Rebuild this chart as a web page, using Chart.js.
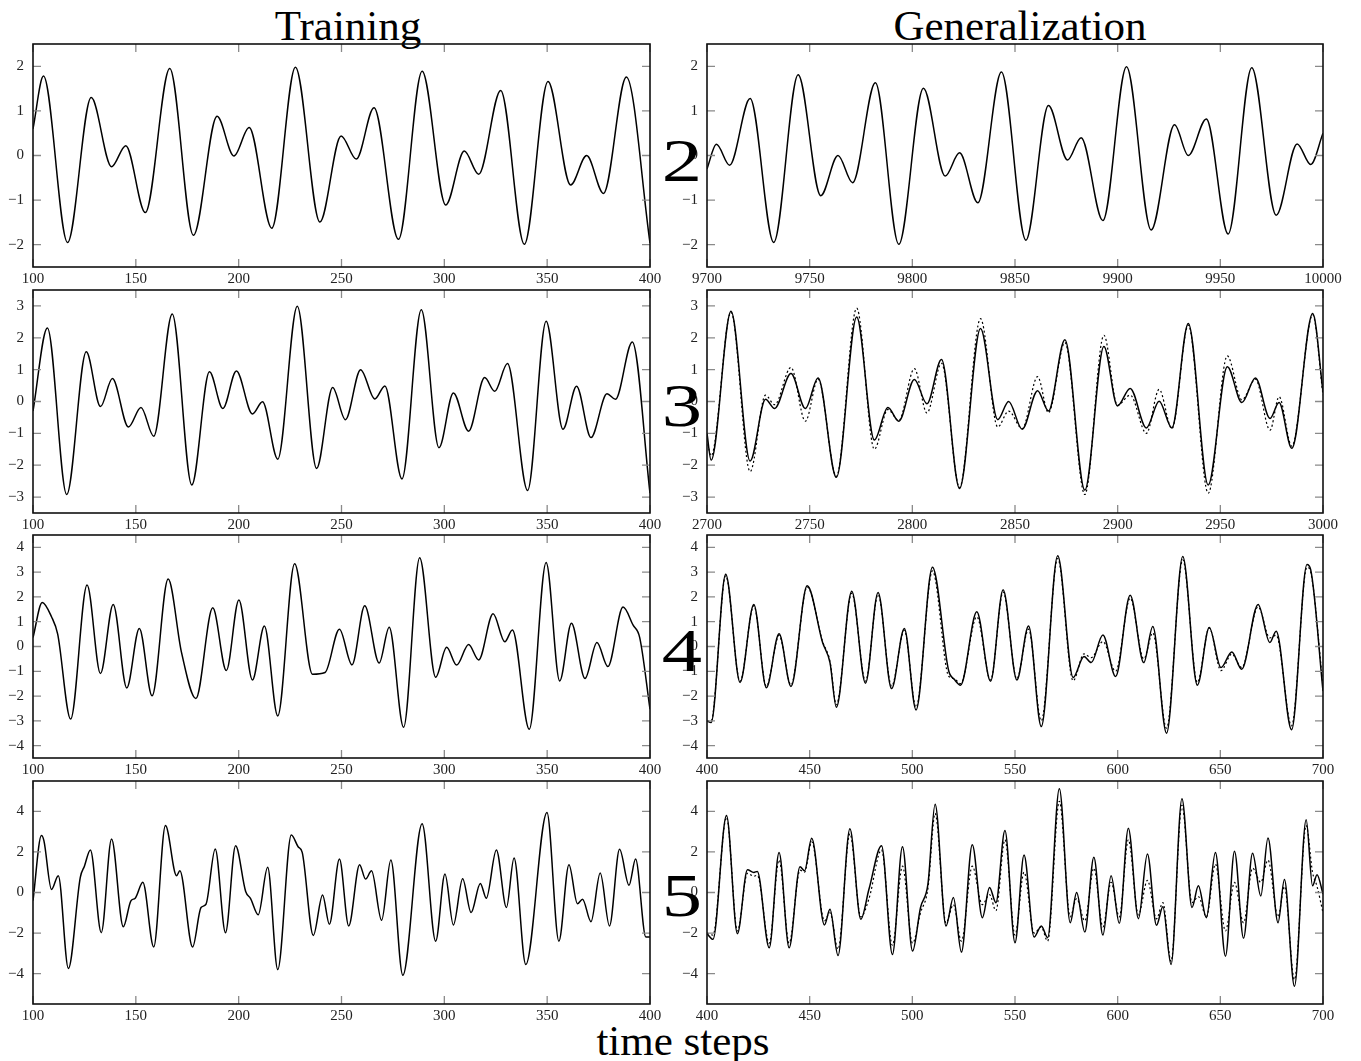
<!DOCTYPE html>
<html>
<head>
<meta charset="utf-8">
<script src="https://cdn.jsdelivr.net/npm/chart.js@4.4.1/dist/chart.umd.min.js"></script>
<style>
  body { margin: 0; background: #fff; width: 1361px; height: 1061px; position: relative; overflow: hidden; }
  canvas { position: absolute; }
  .lbl { position: absolute; font-family: "Liberation Serif", "DejaVu Serif", serif; color: #000; white-space: nowrap; line-height: 1; }
  .title { font-size: 43px; transform: translateX(-50%); }
  .row { font-size: 62px; transform: translateX(-50%) scaleX(1.3); z-index: 5; }
</style>
</head>
<body>
<div class="lbl title" style="left:348px; top:4px;">Training</div>
<div class="lbl title" style="left:1020px; top:4px;">Generalization</div>
<div class="lbl title" style="left:683px; top:1019px;">time steps</div>
<div class="lbl row" style="left:682px; top:129px;">2</div>
<div class="lbl row" style="left:682px; top:374px;">3</div>
<div class="lbl row" style="left:682px; top:619px;">4</div>
<div class="lbl row" style="left:682px; top:864px;">5</div>

<script>
// Tick labels
const trainTicks = [100, 150, 200, 250, 300, 350, 400];
const gen2Ticks = [9700, 9750, 9800, 9850, 9900, 9950, 10000];
const gen3Ticks = [2700, 2750, 2800, 2850, 2900, 2950, 3000];
const gen45Ticks = [400, 450, 500, 550, 600, 650, 700];
const yTicks2 = [-2, -1, 0, 1, 2];
const yTicks3 = [-3, -2, -1, 0, 1, 2, 3];
const yTicks4 = [-4, -3, -2, -1, 0, 1, 2, 3, 4];
const yTicks5 = [-4, -2, 0, 2, 4];

// Row 2: training (target ~ output)
const train2X = [100,105.1,116.8,128.3,138.2,145.1,154.6,166.5,178,189.5,197.7,205.1,216.1,227.6,239.5,249.8,257.2,265.8,277.7,289.2,300.7,309.7,316.7,327.4,338.9,350.4,361.4,369.2,377.4,388.5,400];
const train2Y = [0.6,1.78,-1.95,1.30,-0.25,0.22,-1.28,1.95,-1.79,0.88,-0.01,0.63,-1.63,1.98,-1.49,0.44,-0.08,1.07,-1.88,1.89,-1.11,0.10,-0.42,1.46,-1.99,1.66,-0.66,0.0,-0.85,1.76,-1.96];

// Row 2: generalization
const gen2X = [9700,9704.6,9711,9721,9732.5,9744.4,9755.4,9763.8,9770.9,9782,9793.4,9805.4,9816,9823,9831.9,9843.4,9855.3,9866.3,9875.6,9882.2,9892.8,9904.3,9916.3,9927.7,9934.4,9943.2,9953.8,9965.3,9977.2,9987.4,9994,10000];
const gen2Y = [-0.3,0.25,-0.22,1.28,-1.95,1.81,-0.9,0.0,-0.61,1.63,-1.99,1.51,-0.46,0.06,-1.06,1.87,-1.9,1.12,-0.1,0.4,-1.46,1.99,-1.67,0.69,0.0,0.82,-1.76,1.97,-1.34,0.26,-0.2,0.5];

// Row 3: training
const train3X = [100,107,116.4,125.9,132.8,138.6,146.4,152.5,158.7,167.7,177.2,185.8,192.3,198.9,206.7,211.6,219,228.5,237.9,245.7,251.9,259.3,266.2,271.1,279.4,288.8,297.4,304.4,311.8,319.6,324.5,330.7,340.5,349.5,357.7,364.3,371.3,379.1,383.2,391.4,400];
const train3Y = [-0.3,2.31,-2.92,1.56,-0.16,0.72,-0.8,-0.19,-1.09,2.75,-2.62,0.93,-0.22,0.96,-0.39,-0.01,-1.81,2.99,-2.1,0.44,-0.57,1.0,0.08,0.49,-2.43,2.88,-1.45,0.27,-0.93,0.75,0.32,1.19,-2.79,2.52,-0.87,0.48,-1.13,0.24,0.07,1.87,-2.88];

// Row 3: generalization, target (solid) and network output (dotted)
const gen3X = [2700,2702,2711.7,2721,2728.5,2732.9,2740.9,2747.9,2754.1,2763,2772.9,2781.5,2788.1,2793.4,2801,2807.1,2814.2,2823,2833.2,2841.6,2846.9,2853.5,2861,2866.3,2874.3,2884,2893.3,2899.9,2906.1,2914,2920.2,2926.4,2934.4,2944.1,2953.4,2960.5,2967.1,2974.2,2978.6,2984.8,2995,3000];
const gen3Target = [-1.0,-1.84,2.83,-1.87,0.07,-0.22,0.88,-0.22,0.74,-2.38,2.65,-1.21,-0.19,-0.62,0.69,-0.07,1.32,-2.73,2.29,-0.57,0.0,-0.87,0.34,-0.3,1.94,-2.78,1.73,-0.14,0.41,-0.83,0.01,-0.83,2.45,-2.62,1.09,-0.03,0.74,-0.53,-0.03,-1.47,2.76,0.3];
const gen3Output = [-1.2,-1.7,2.8,-2.2,0.2,-0.1,1.07,-0.62,0.7,-2.35,2.93,-1.5,-0.25,-0.6,1.03,-0.36,1.2,-2.7,2.6,-0.8,-0.3,-0.85,0.78,-0.35,1.85,-2.92,2.08,-0.12,0.2,-1.0,0.38,-0.85,2.4,-2.88,1.43,0.05,0.7,-0.9,0.15,-1.4,2.72,0.2];

// Row 4: training
const train4X = [100,104.5,109,112,118.3,126.3,132.8,139,145.6,151.7,157.9,165.7,172.2,179.2,187.4,194,200.1,206.7,212.5,219,227.2,235.9,242,249,255.1,261.3,268.3,273.2,280.2,288,295.8,301.1,306,311.8,316.7,323.7,329.4,333.1,341.3,349.5,356.1,361.8,368.4,374.2,379.5,386.9,391.8,395,400];
const train4Y = [0.36,1.78,1.2,0.5,-2.93,2.48,-1.09,1.7,-1.67,0.73,-1.99,2.72,-0.24,-2.1,1.56,-0.97,1.88,-1.35,0.83,-2.8,3.34,-1.12,-1.05,0.7,-0.74,1.64,-0.67,0.78,-3.26,3.58,-1.24,-0.03,-0.75,0.08,-0.54,1.32,0.19,0.67,-3.34,3.39,-1.39,0.94,-1.29,0.16,-0.81,1.59,0.86,0.36,-2.53];

// Row 4: generalization
const gen4X = [400,402,409.1,416.1,422.8,428.9,435.1,440.9,448.8,456.3,459.9,463,470.5,477.2,483.3,489.9,496.1,501.8,509.8,517.7,520.4,523.5,531.4,538.1,544.2,550.9,556.6,562.8,570.8,578.3,583.6,587.1,592.8,599,606.1,612.7,617.1,623.8,631.7,638.8,644.6,650.3,655.6,660.4,668.4,674.1,677.2,684.7,692.2,694,700];
const gen4Target = [-3.0,-3.07,2.92,-1.45,1.7,-1.66,0.51,-1.61,2.45,0.16,-0.65,-2.45,2.23,-1.48,2.18,-1.7,0.73,-2.56,3.2,-0.98,-1.32,-1.56,1.4,-1.4,2.29,-1.35,0.83,-3.23,3.66,-1.25,-0.4,-0.65,0.46,-1.21,2.07,-0.65,0.81,-3.5,3.63,-1.56,0.77,-0.85,-0.22,-0.92,1.7,0.16,0.62,-3.36,3.31,3.1,-1.8];
const gen4Output = [-3.0,-3.0,2.85,-1.4,1.65,-1.6,0.45,-1.55,2.4,0.2,-0.6,-2.35,2.15,-1.4,2.1,-1.6,0.65,-2.45,3.05,-1.2,-1.3,-1.5,1.2,-1.35,2.2,-1.3,0.7,-3.0,3.55,-1.38,-0.3,-0.45,0.2,-1.0,1.95,-0.5,0.55,-3.3,3.5,-1.45,0.75,-0.97,-0.3,-0.85,1.6,0.35,0.45,-3.2,3.2,3.0,-1.6];

// Row 5: training
const train5X = [100,104.1,105.3,109,112.3,117.2,123,125,127.9,133.2,138.2,143.9,147.6,149.7,153.4,158.7,164.4,169.8,171.4,177.6,181.7,184.1,188.6,193.6,198.5,203.4,205.8,209.5,214.1,219,225.6,228.9,230.9,236.3,240.8,244.1,249,253.5,258.8,261.7,264.6,269.5,274,279.8,289.2,295.8,300.3,304.4,308.9,313,317.5,320.4,325.3,330.2,333.9,339.6,349.9,355.7,360.6,364.7,367.2,371.3,375.8,380.3,385.2,389.8,393,398,400];
const train5Y = [-0.4,2.81,2.56,0.15,0.83,-3.75,0.75,1.3,2.1,-1.98,2.64,-1.69,-0.41,-0.28,0.5,-2.69,3.3,0.83,1.07,-2.69,-0.74,-0.58,2.15,-1.98,2.3,0.05,-0.3,-1.1,1.24,-3.8,2.84,2.26,1.98,-2.12,-0.12,-1.57,1.65,-1.65,1.37,0.66,1.07,-1.37,1.6,-4.08,3.39,-2.4,0.91,-1.6,0.68,-0.99,0.45,-0.28,2.1,-0.74,1.7,-3.55,3.95,-2.4,1.37,-0.55,-0.33,-1.44,0.96,-1.65,2.13,0.36,1.65,-2.2,-2.2];

// Row 5: generalization
const gen5X = [400,402.9,409.5,414.8,419.7,422.8,424.5,430.3,435.1,440,445.3,447.5,451,457.2,459.9,463.8,469.6,474.9,478.9,485,490.3,495.2,500.1,504,507.6,511.1,516.4,520,523.9,529.2,534.1,537.6,540.7,545.1,550,554.4,559.3,562.8,565.9,571.6,576.9,580,584,588.4,592.8,596.8,600.8,605.2,610.1,614.5,618.9,622,626,631.3,636.2,639.3,643.2,647.6,652.5,656.9,661.3,665.7,669.7,673.2,678.1,681.2,686.1,691.8,694.9,697.1,700];
const gen5Target = [-2.03,-2.31,3.8,-2.03,1.12,0.99,1.04,-2.73,1.97,-2.73,1.27,1.07,2.68,-1.6,-0.83,-3.11,3.14,-1.32,0.17,2.31,-3.06,2.26,-2.89,-0.74,0.41,4.35,-1.65,-0.25,-2.94,2.36,-1.24,0.25,-0.5,3.06,-2.48,1.85,-2.2,-1.65,-2.23,5.12,-1.49,0.0,-1.95,1.74,-2.1,0.83,-1.52,3.17,-1.29,1.9,-1.62,-0.7,-3.55,4.63,-0.74,0.33,-1.24,1.97,-3.14,2.03,-2.26,1.93,-0.17,2.69,-1.49,0.64,-4.63,3.59,0.33,0.88,-0.08];
const gen5Output = [-2.0,-2.1,3.7,-1.9,0.95,0.8,0.85,-2.5,1.6,-2.5,1.1,1.0,2.5,-1.4,-1.0,-2.8,2.9,-1.2,-0.3,2.1,-2.6,1.3,-2.5,-1.0,0.2,3.9,-1.5,-0.6,-2.4,1.3,-0.6,-0.1,-0.9,2.6,-2.1,1.0,-2.0,-1.7,-2.4,4.5,-1.2,-0.3,-1.4,1.2,-1.7,0.5,-1.2,2.6,-1.1,0.6,-1.3,-0.5,-3.4,4.3,-0.5,-0.2,-1.2,1.4,-1.9,0.5,-1.5,1.2,0.5,1.6,-1.2,0.3,-4.3,3.3,1.0,0.3,-1.0];

const FONT = '"Liberation Serif", "DejaVu Serif", serif';
const Y_W = 42, X_H = 24, PAD_T = 24, PAD_R = 28;

function pts(xs, ys) {
    return xs.map((x, i) => ({ x: x, y: ys[i] }));
}

function fmt(v) {
    return String(v).replace('-', '\u2212');
}

// box around the plot area with short inward ticks on all four sides
const frameTicks = {
    id: 'frameTicks',
    afterDatasetsDraw(chart) {
        const { ctx, chartArea: a, scales: { x, y } } = chart;
        const len = 8;
        ctx.save();
        ctx.strokeStyle = '#8a8a8a';
        ctx.lineWidth = 1.3;
        ctx.beginPath();
        x.ticks.forEach(t => {
            const px = x.getPixelForValue(t.value);
            ctx.moveTo(px, a.bottom); ctx.lineTo(px, a.bottom - len);
            ctx.moveTo(px, a.top); ctx.lineTo(px, a.top + len);
        });
        y.ticks.forEach(t => {
            const py = y.getPixelForValue(t.value);
            ctx.moveTo(a.left, py); ctx.lineTo(a.left + len, py);
            ctx.moveTo(a.right, py); ctx.lineTo(a.right - len, py);
        });
        ctx.stroke();
        ctx.strokeStyle = '#111';
        ctx.lineWidth = 1.6;
        ctx.strokeRect(a.left, a.top, a.right - a.left, a.bottom - a.top);
        ctx.restore();
    }
};

function makePanel(p) {
    const c = document.createElement('canvas');
    const w = Y_W + p.w + PAD_R, h = PAD_T + p.h + X_H;
    c.width = w; c.height = h;
    c.style.left = (p.left - Y_W) + 'px';
    c.style.top = (p.top - PAD_T) + 'px';
    c.style.width = w + 'px';
    c.style.height = h + 'px';
    document.body.appendChild(c);

    const datasets = [{
        data: pts(p.xs, p.target),
        borderColor: '#000',
        borderWidth: 1.5,
        pointRadius: 0,
        cubicInterpolationMode: 'monotone',
        fill: false
    }];
    if (p.output) {
        datasets.push({
            data: pts(p.xs, p.output),
            borderColor: '#000',
            borderWidth: 1.2,
            borderDash: [2, 2.5],
            pointRadius: 0,
            cubicInterpolationMode: 'monotone',
            fill: false
        });
    }

    const tickFont = { family: FONT, size: 15 };
    new Chart(c, {
        type: 'line',
        data: { datasets: datasets },
        options: {
            responsive: false,
            animation: false,
            devicePixelRatio: 1,
            layout: { padding: { top: PAD_T, right: PAD_R, left: 0, bottom: 0 } },
            plugins: { legend: { display: false }, tooltip: { enabled: false } },
            scales: {
                x: {
                    type: 'linear',
                    min: p.xTicks[0],
                    max: p.xTicks[p.xTicks.length - 1],
                    afterBuildTicks: s => { s.ticks = p.xTicks.map(v => ({ value: v })); },
                    afterFit: s => { s.height = X_H; },
                    grid: { display: false, drawTicks: false },
                    border: { display: false },
                    ticks: { font: tickFont, color: '#222', padding: 3, autoSkip: false, maxRotation: 0, callback: v => fmt(v) }
                },
                y: {
                    type: 'linear',
                    min: p.yMin,
                    max: p.yMax,
                    afterBuildTicks: s => { s.ticks = p.yTicks.map(v => ({ value: v })); },
                    afterFit: s => { s.width = Y_W; },
                    grid: { display: false, drawTicks: false },
                    border: { display: false },
                    ticks: { font: tickFont, color: '#222', padding: 9, autoSkip: false, callback: v => fmt(v) }
                }
            }
        },
        plugins: [frameTicks]
    });
}

const LEFT_X = 33, LEFT_W = 617, RIGHT_X = 707, RIGHT_W = 616, PH = 223;
const tops = [44, 290, 535, 781];

const panels = [
    { left: LEFT_X, top: tops[0], w: LEFT_W, h: PH, xs: train2X, target: train2Y, xTicks: trainTicks, yTicks: yTicks2, yMin: -2.5, yMax: 2.5 },
    { left: RIGHT_X, top: tops[0], w: RIGHT_W, h: PH, xs: gen2X, target: gen2Y, xTicks: gen2Ticks, yTicks: yTicks2, yMin: -2.5, yMax: 2.5 },
    { left: LEFT_X, top: tops[1], w: LEFT_W, h: PH, xs: train3X, target: train3Y, xTicks: trainTicks, yTicks: yTicks3, yMin: -3.5, yMax: 3.5 },
    { left: RIGHT_X, top: tops[1], w: RIGHT_W, h: PH, xs: gen3X, target: gen3Target, output: gen3Output, xTicks: gen3Ticks, yTicks: yTicks3, yMin: -3.5, yMax: 3.5 },
    { left: LEFT_X, top: tops[2], w: LEFT_W, h: PH, xs: train4X, target: train4Y, xTicks: trainTicks, yTicks: yTicks4, yMin: -4.5, yMax: 4.5 },
    { left: RIGHT_X, top: tops[2], w: RIGHT_W, h: PH, xs: gen4X, target: gen4Target, output: gen4Output, xTicks: gen45Ticks, yTicks: yTicks4, yMin: -4.5, yMax: 4.5 },
    { left: LEFT_X, top: tops[3], w: LEFT_W, h: PH, xs: train5X, target: train5Y, xTicks: trainTicks, yTicks: yTicks5, yMin: -5.5, yMax: 5.5 },
    { left: RIGHT_X, top: tops[3], w: RIGHT_W, h: PH, xs: gen5X, target: gen5Target, output: gen5Output, xTicks: gen45Ticks, yTicks: yTicks5, yMin: -5.5, yMax: 5.5 }
];

panels.forEach(makePanel);
</script>
</body>
</html>
